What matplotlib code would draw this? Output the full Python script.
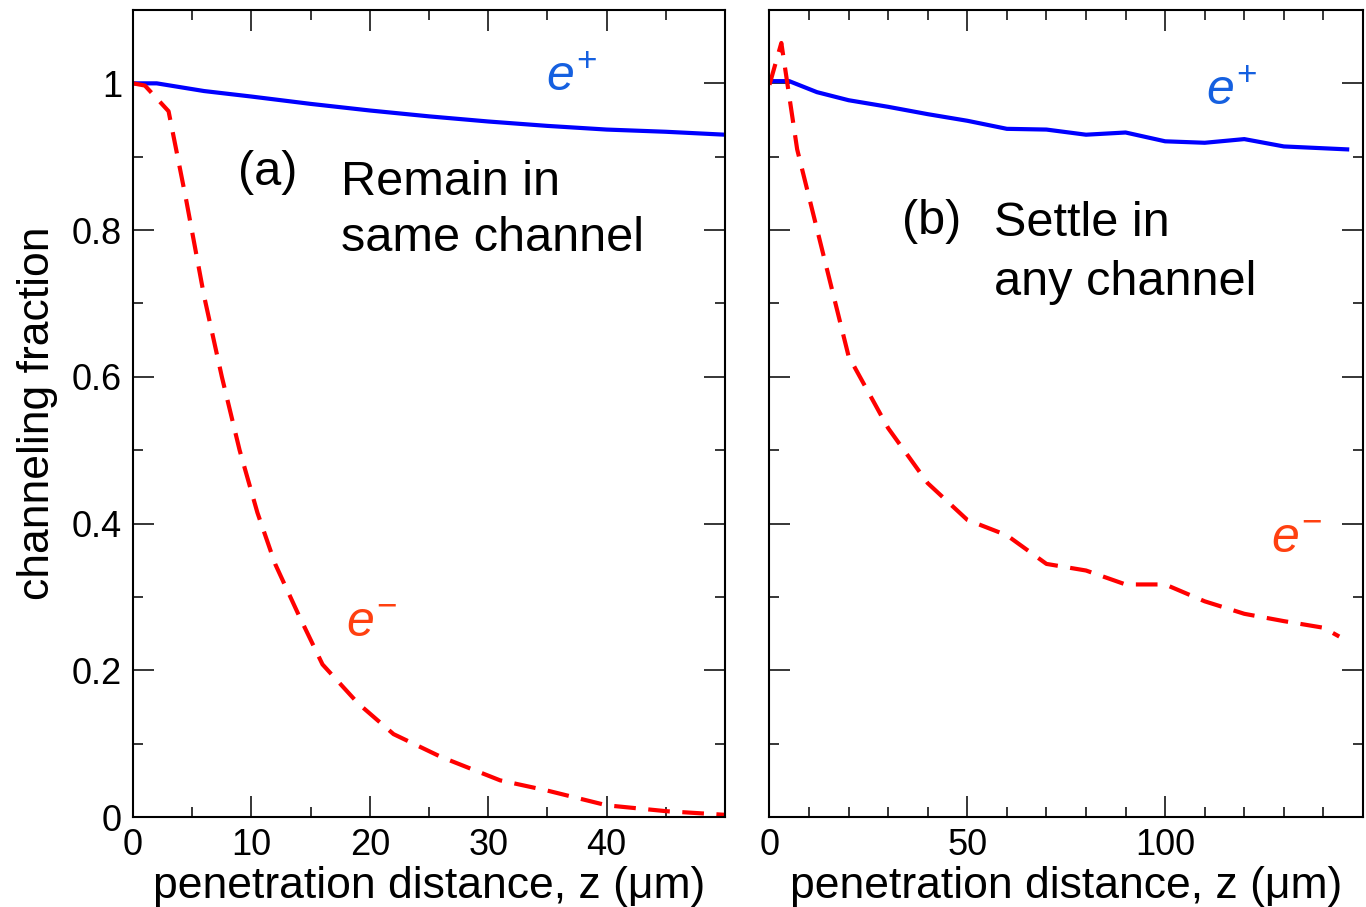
import matplotlib
matplotlib.use("Agg")
import matplotlib.pyplot as plt
from matplotlib.ticker import MultipleLocator

plt.rcParams['font.family'] = ['Liberation Sans', 'DejaVu Sans']
plt.rcParams['mathtext.fontset'] = 'custom'
plt.rcParams['mathtext.rm'] = 'Liberation Sans'
plt.rcParams['mathtext.it'] = 'Liberation Sans:italic'

# (a) remain in the same channel
z_a_pos = [0, 2, 6, 10, 15, 20, 25, 30, 35, 40, 45, 50]
f_a_pos = [1.0, 1.0, 0.9895, 0.982, 0.972, 0.963, 0.955, 0.948, 0.942, 0.937, 0.934, 0.930]
z_a_neg = [0, 1, 3, 4.5, 6, 7.5, 9, 10.5, 12, 14, 16, 19, 22, 26, 31, 35, 40, 45, 50]
f_a_neg = [1.0, 0.997, 0.962, 0.84, 0.71, 0.60, 0.50, 0.415, 0.345, 0.275, 0.208,
           0.155, 0.113, 0.082, 0.050, 0.036, 0.016, 0.008, 0.003]

# (b) settle in any channel
z_b_pos = [0, 5, 12, 20, 30, 40, 50, 60, 70, 80, 90, 100, 110, 120, 130, 146]
f_b_pos = [1.003, 1.003, 0.988, 0.977, 0.968, 0.958, 0.949, 0.938, 0.937, 0.930,
           0.933, 0.921, 0.919, 0.924, 0.914, 0.910]
z_b_neg = [0, 3, 7, 20, 30, 40, 50, 60, 70, 80, 90, 100, 110, 120, 130, 140, 144]
f_b_neg = [0.998, 1.055, 0.91, 0.628, 0.530, 0.455, 0.405, 0.384, 0.345, 0.336,
           0.317, 0.317, 0.294, 0.277, 0.267, 0.258, 0.246]

fig = plt.figure(figsize=(13.66, 9.07), dpi=100)
ax1 = fig.add_axes([0.0974, 0.0992, 0.4334, 0.8898])
ax2 = fig.add_axes([0.5633, 0.0992, 0.4345, 0.8898])

blue = '#0000ff'
red = '#ff0000'
lab_blue = '#1560e0'
lab_red = '#ff4010'

ax1.plot(z_a_pos, f_a_pos, color=blue, lw=3.0)
ax1.plot(z_a_neg, f_a_neg, color=red, lw=3.0, dashes=(5.2, 3))
ax2.plot(z_b_pos, f_b_pos, color=blue, lw=3.0)
ax2.plot(z_b_neg, f_b_neg, color=red, lw=3.0, dashes=(5.2, 3))

for ax in (ax1, ax2):
    ax.set_ylim(0, 1.1)
    ax.yaxis.set_major_locator(MultipleLocator(0.2))
    ax.yaxis.set_minor_locator(MultipleLocator(0.1))
    ax.tick_params(which='both', direction='in', top=True, right=True,
                   labelsize=26, width=1.1, pad=8)
    ax.tick_params(which='major', length=15)
    ax.tick_params(which='minor', length=7.5)
    for s in ax.spines.values():
        s.set_linewidth(1.5)
    ax.set_xlabel('penetration distance, z (\u03bcm)', fontsize=32, labelpad=2)

ax1.set_xlim(0, 50)
ax1.set_xticks([0, 10, 20, 30, 40])
ax1.xaxis.set_minor_locator(MultipleLocator(5))
ax1.set_yticks([0, 0.2, 0.4, 0.6, 0.8, 1.0])
ax1.set_yticklabels(['0', '0.2', '0.4', '0.6', '0.8', '1'])
ax1.set_ylabel('channeling fraction', fontsize=32, labelpad=10)

ax2.set_xlim(0, 150)
ax2.set_xticks([0, 50, 100])
ax2.xaxis.set_minor_locator(MultipleLocator(10))
ax2.tick_params(labelleft=False)

ax1.text(8.9, 0.862, '(a)', fontsize=35, va='baseline')
ax1.text(17.6, 0.848, 'Remain in', fontsize=35, va='baseline')
ax1.text(17.6, 0.772, 'same channel', fontsize=35, va='baseline')
ax1.text(34.9, 0.99, r'$e^{+}$', fontsize=36, color=lab_blue, va='baseline')
ax1.text(18.0, 0.245, r'$e^{-}$', fontsize=36, color=lab_red, va='baseline')

ax2.text(33.6, 0.795, '(b)', fontsize=35, va='baseline')
ax2.text(56.8, 0.792, 'Settle in', fontsize=35, va='baseline')
ax2.text(56.8, 0.712, 'any channel', fontsize=35, va='baseline')
ax2.text(110.2, 0.97, r'$e^{+}$', fontsize=36, color=lab_blue, va='baseline')
ax2.text(126.8, 0.36, r'$e^{-}$', fontsize=36, color=lab_red, va='baseline')

fig.savefig('out.png', dpi=100)
